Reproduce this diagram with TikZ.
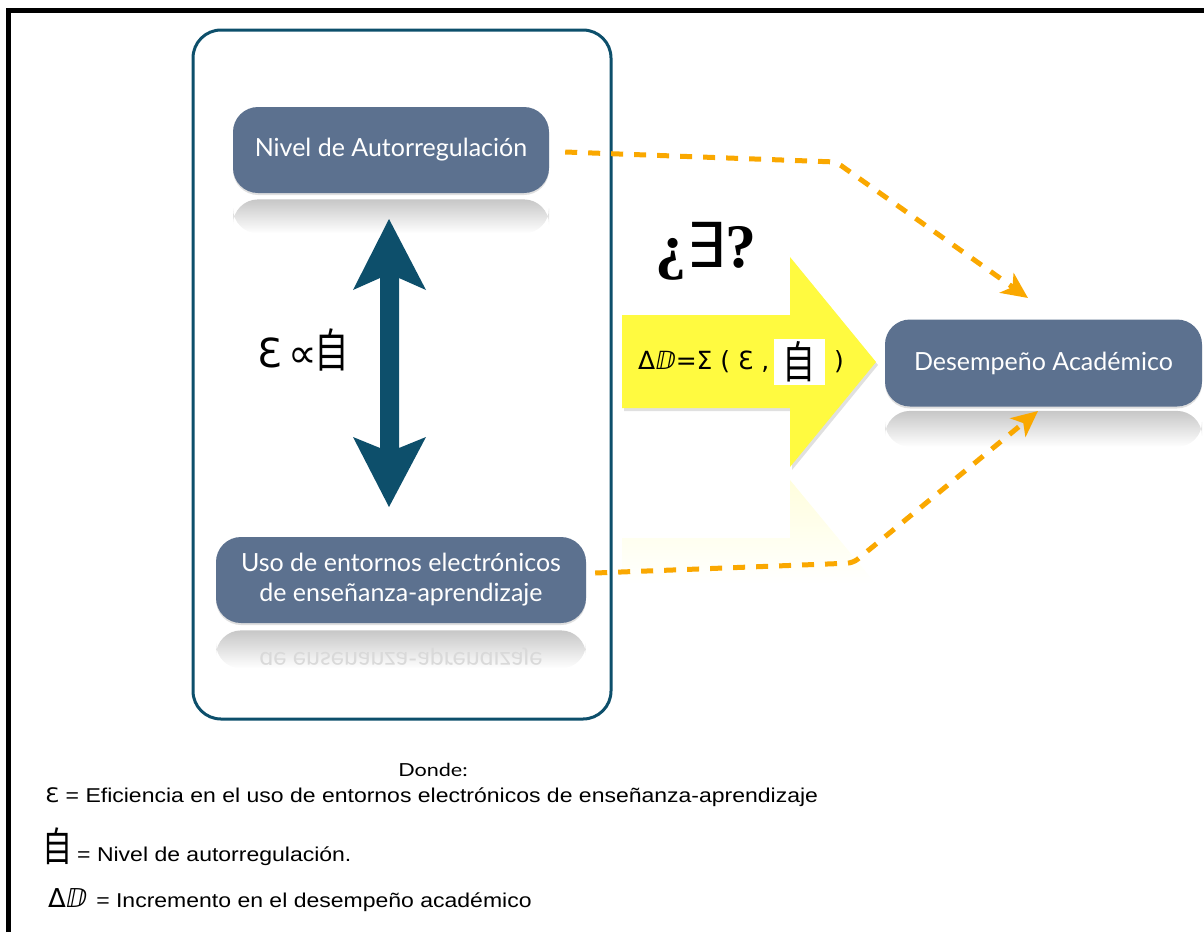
\documentclass[tikz,border=0pt]{standalone}
\usepackage{fontspec}
\setmainfont{Lato}
\newfontfamily\helv{Liberation Sans}
\newfontfamily\dvs{DejaVu Sans}
\newfontfamily\cjk{Noto Sans CJK SC}
\newfontfamily\tnr{Liberation Serif}
\usetikzlibrary{arrows.meta,positioning,shadows}

\definecolor{slate}{RGB}{92,113,143}
\definecolor{petrol}{RGB}{13,79,107}
\definecolor{lemon}{RGB}{255,250,64}
\definecolor{amber}{RGB}{250,168,0}

\newcommand{\zi}[1]{\scalebox{0.75}[1]{\cjk\fontsize{#1}{#1}\selectfont 自}}
\newcommand{\wide}[1]{\scalebox{1.15}[1]{#1}}

\begin{document}
\begin{tikzpicture}[x=1pt,y=-1pt,
  every node/.style={inner sep=0pt},
  box/.style={rectangle, rounded corners=25pt, fill=slate, text=white, align=center,
    font=\fontsize{25}{30}\selectfont,
    drop shadow={opacity=0.25, shadow xshift=0pt, shadow yshift=-2pt}},
  refl/.style={rectangle, rounded corners=25pt, top color=black!22, bottom color=white},
  flow/.style={draw=amber, line width=5pt, dash pattern=on 12pt off 11pt, rounded corners=6pt,
    -{Stealth[length=26pt,width=24pt,inset=7pt]}}]

  \useasboundingbox (0,0) rectangle (1204,932);

  % frame
  \draw[line width=4.5pt] (8.5,932) -- (8.5,10.5) -- (1204,10.5);

  % boxes
  \node[box, minimum width=316pt, minimum height=86pt] (nivel) at (391,150) {Nivel de Autorregulación};
  \node[box, minimum width=370pt, minimum height=86pt] (uso)   at (401,580) {Uso de entornos electrónicos\\de enseñanza-aprendizaje};
  \node[box, minimum width=317pt, minimum height=87pt] (des)   at (1043.5,363) {Desempeño Académico};

  % reflections
  \node[refl, minimum width=316pt, minimum height=34pt, below=6pt of nivel] (nivelR) {};
  \node[refl, minimum width=370pt, minimum height=38pt, below=7pt of uso]   (usoR)   {};
  \node[refl, minimum width=317pt, minimum height=36pt, below=4pt of des]   (desR)   {};
  \begin{scope}
    \clip (216,630) rectangle (586,664);
    \begin{scope}[shift={(401,659)}, yscale=-1]
      \node[transform shape, text=black!15, font=\fontsize{25}{30}\selectfont] (usoRtext) at (0,0) {de enseñanza-aprendizaje};
    \end{scope}
  \end{scope}

  % container
  \draw[petrol, line width=3pt, rounded corners=28pt] (193,30) rectangle (611,719);

  % double arrow
  \fill[petrol] (389,219) -- (426,290) -- (399,278) -- (399,448) -- (426,437) -- (389,507)
    -- (353,437) -- (380,448) -- (380,278) -- (353,290) -- cycle;
  \node (rel) at (303,350) {\dvs\fontsize{40}{40}\selectfont Ɛ\,∝\hspace{-3pt}\zi{46}};

  % yellow arrow
  \shade[top color=lemon!18, bottom color=white] (622,538) -- (790,538) -- (790,480) -- (876,584) -- (622,584) -- cycle;
  \fill[black, opacity=0.12] (624,318) -- (792,318) -- (792,260) -- (878,365) -- (792,470) -- (792,411) -- (624,411) -- cycle;
  \fill[lemon] (622,315) -- (790,315) -- (790,257) -- (876,362) -- (790,467) -- (790,408) -- (622,408) -- cycle;
  \node (exq) at (706,251) {\tnr\bfseries\fontsize{62}{62}\selectfont ¿{\dvs\mdseries ∃}?};
  \node[anchor=west] (fml) at (638,362) {\dvs\fontsize{25}{25}\selectfont Δⅅ=Σ ( Ɛ ,};
  \node[fill=white, inner xsep=9pt, inner ysep=3pt, right=4pt of fml] (fmlzi) {\zi{44}};
  \node[right=9pt of fmlzi] (fmlend) {\dvs\fontsize{25}{25}\selectfont )};

  % dashed links
  \coordinate (kneeA) at (836,162);
  \coordinate (tipA)  at (1028,298);
  \coordinate (kneeB) at (853,563);
  \coordinate (tipB)  at (1038,411);
  \draw[flow] ([xshift=16pt,yshift=-2pt]nivel.east) -- (kneeA) -- (tipA);
  \draw[flow] ([xshift=9pt,yshift=7pt]uso.east) -- (kneeB) -- (tipB);

  % legend
  \node (donde) at (433,770) {\scalebox{1.2}[1]{\fontsize{18}{18}\selectfont Donde:}};
  \node[anchor=west] (legA) at (45,797) {\wide{\helv\fontsize{20}{20}\selectfont {\dvs Ɛ} = Eficiencia en el uso de entornos electrónicos de enseñanza-aprendizaje}};
  \node[anchor=west] (legB) at (42,847) {\zi{40}\hspace{5pt}\wide{\helv\fontsize{20}{20}\selectfont = Nivel de autorregulación.}};
  \node[anchor=west] (legC) at (48,900) {{\dvs\fontsize{26}{26}\selectfont Δⅅ}\hspace{9pt}\wide{\helv\fontsize{20}{20}\selectfont = Incremento en el desempeño académico}};
\end{tikzpicture}
\end{document}
